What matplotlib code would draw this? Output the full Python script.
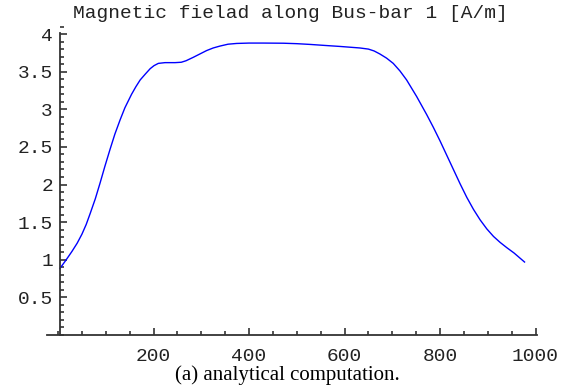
import numpy as np
import matplotlib
matplotlib.use("Agg")
import matplotlib.pyplot as plt
from matplotlib.ticker import MultipleLocator, FixedLocator

# Werte (Position entlang der Stromschiene, Feldstärke in A/m)
pos = [4, 16, 29, 40, 50, 59, 67, 78, 88, 98, 109, 119, 130, 140, 154, 163,
       172, 183, 193, 201, 210, 224, 245, 258, 268, 283, 297, 311, 325, 339,
       356, 374, 400, 430, 472, 500, 528, 560, 591, 632, 650, 662, 674, 688,
       702, 716, 730, 751, 772, 786, 800, 814, 828, 842, 856, 870, 884, 898,
       912, 926, 940, 955, 977]
field = [0.886, 0.99, 1.11, 1.22, 1.34, 1.47, 1.61, 1.81, 2.02, 2.24, 2.47,
         2.67, 2.86, 3.02, 3.20, 3.30, 3.39, 3.47, 3.54, 3.58, 3.61, 3.62,
         3.62, 3.625, 3.645, 3.69, 3.735, 3.78, 3.815, 3.84, 3.865, 3.875,
         3.88, 3.88, 3.878, 3.872, 3.862, 3.848, 3.835, 3.815, 3.80, 3.775,
         3.735, 3.68, 3.61, 3.51, 3.39, 3.17, 2.93, 2.76, 2.58, 2.39, 2.20,
         2.01, 1.83, 1.67, 1.53, 1.41, 1.31, 1.23, 1.16, 1.09, 0.97]
xticks = [200, 400, 600, 800, 1000]
yticks = [0.5, 1, 1.5, 2, 2.5, 3, 3.5, 4]
ytick_labels = ["0.5", "1", "1.5", "2", "2.5", "3", "3.5", "4"]

mono = "Liberation Mono"
ink = "#222222"

fig = plt.figure(figsize=(5.7, 3.9), dpi=100)
ax = fig.add_axes([0.0809, 0.141, 0.867, 0.791])
ax.plot(pos, field, color="#0000ff", lw=1.0)

ax.set_xlim(-25, 1010)
ax.set_ylim(0, 4.1)
ax.spines["top"].set_visible(False)
ax.spines["right"].set_visible(False)
ax.spines["left"].set_position(("data", 4))
ax.spines["left"].set_bounds(0, 4.01)
ax.spines["bottom"].set_bounds(-23, 1003)
for s in ("left", "bottom"):
    ax.spines[s].set_linewidth(1.3)
    ax.spines[s].set_color("#333333")

ax.xaxis.set_major_locator(FixedLocator(xticks))
ax.xaxis.set_minor_locator(MultipleLocator(50))
ax.yaxis.set_major_locator(FixedLocator(yticks))
ax.yaxis.set_minor_locator(MultipleLocator(0.1))
ax.set_xticklabels([str(t) for t in xticks], family=mono, fontsize=14, color=ink)
ax.set_yticklabels(ytick_labels, family=mono, fontsize=14, color=ink)
ax.tick_params(which="major", direction="in", length=5, width=1.2, color="#333333")
ax.tick_params(which="minor", direction="in", length=3, width=1.2, color="#333333")
ax.tick_params(axis="x", which="major", pad=9)
ax.tick_params(axis="y", which="major", pad=5)
ax.patch.set_visible(False)

fig.text(290 / 570, 1 - 14 / 390, "Magnetic fielad along Bus-bar 1 [A/m]",
         family=mono, fontsize=14, ha="center", va="center", color=ink)
fig.text(287 / 570, 1 - 375 / 390, "(a) analytical computation.",
         family="Liberation Serif", fontsize=15, ha="center", va="center")

fig.savefig("out.png", dpi=100)
